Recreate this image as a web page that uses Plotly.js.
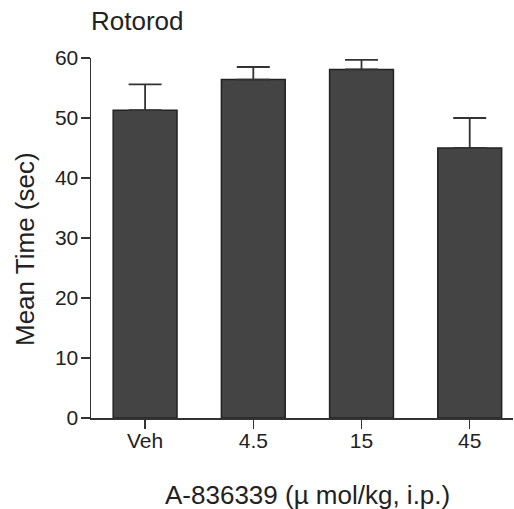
<!DOCTYPE html>
<html>
<head>
<meta charset="utf-8">
<script src="https://cdn.plot.ly/plotly-3.0.1.min.js"></script>
<style>html,body{margin:0;padding:0;background:#fff;overflow:hidden}</style>
</head>
<body>
<div id="chart" style="width:514px;height:509px"></div>
<script>
const categories = ["Veh", "4.5", "15", "45"];
const meanTime = [51.3, 56.4, 58.1, 45.0];
const semUpper = [4.3, 2.1, 1.6, 5.0];
const semLower = [0, 0, 0, 0];
const yTicks = [0, 10, 20, 30, 40, 50, 60];

const FONT = "Liberation Sans, Arial, Helvetica, sans-serif";

const trace = {
  type: "bar",
  x: categories,
  y: meanTime,
  width: 0.59,
  marker: { color: "#444444", line: { color: "#222222", width: 1.5 } },
  error_y: {
    type: "data",
    symmetric: false,
    array: semUpper,
    arrayminus: semLower,
    color: "#333333",
    thickness: 1.8,
    width: 16.5
  },
  hoverinfo: "none"
};

const layout = {
  width: 514,
  height: 509,
  margin: { l: 91, r: 1, t: 58, b: 91 },
  paper_bgcolor: "#ffffff",
  plot_bgcolor: "#ffffff",
  showlegend: false,
  font: { family: FONT, color: "#222222" },
  xaxis: {
    type: "category",
    range: [-0.5, 3.4],
    showline: true,
    linecolor: "#333333",
    linewidth: 1.5,
    ticks: "outside",
    ticklen: 9,
    tickwidth: 1.5,
    tickcolor: "#333333",
    ticklabelstandoff: -6,
    tickfont: { family: FONT, size: 21, color: "#222222" },
    showgrid: false,
    zeroline: false,
    fixedrange: true
  },
  yaxis: {
    range: [0, 60],
    tickvals: yTicks,
    ticktext: yTicks.map(String),
    showline: true,
    linecolor: "#333333",
    linewidth: 1.5,
    ticks: "outside",
    ticklen: 9,
    tickwidth: 1.5,
    tickcolor: "#333333",
    ticklabelstandoff: -2,
    tickfont: { family: FONT, size: 21, color: "#222222" },
    showgrid: false,
    zeroline: false,
    fixedrange: true
  },
  annotations: [
    {
      text: "Rotorod",
      xref: "paper", yref: "paper",
      x: (89 - 91) / 422, y: 1 + (58 - 21) / 360,
      xanchor: "left", yanchor: "middle",
      showarrow: false,
      font: { family: FONT, size: 26, color: "#222222" }
    },
    {
      text: "Mean Time (sec)",
      xref: "paper", yref: "paper",
      x: (25 - 91) / 422, y: (418 - 249) / 360,
      xanchor: "center", yanchor: "middle",
      textangle: -90,
      showarrow: false,
      font: { family: FONT, size: 26, color: "#222222" }
    },
    {
      text: "A-836339 (\u00b5 mol/kg, i.p.)",
      xref: "paper", yref: "paper",
      x: (307 - 91) / 422, y: (418 - 495) / 360,
      xanchor: "center", yanchor: "middle",
      showarrow: false,
      font: { family: FONT, size: 26, color: "#222222" }
    }
  ]
};

Plotly.newPlot("chart", [trace], layout, { displayModeBar: false, staticPlot: true });
</script>
</body>
</html>
